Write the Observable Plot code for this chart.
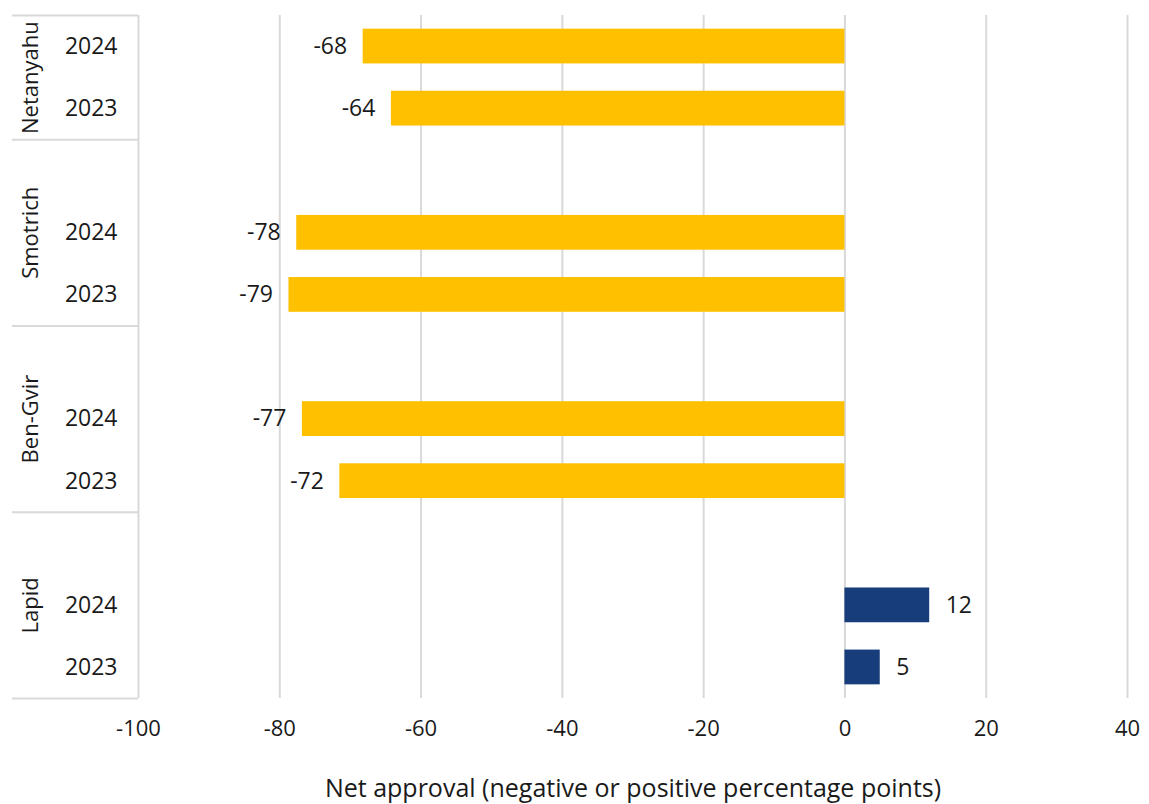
<!DOCTYPE html>
<html>
<head>
<meta charset="utf-8">
<script src="https://cdn.jsdelivr.net/npm/d3@7"></script>
<script src="https://cdn.jsdelivr.net/npm/@observablehq/plot@0.6"></script>
<style>
  html, body { margin: 0; padding: 0; background: #fff; }
</style>
</head>
<body>
<div id="chart"></div>
<script>
const people = ["Netanyahu", "Smotrich", "Ben-Gvir", "Lapid"];
const years = ["2024", "2023"];
const net2024 = [-68.2, -77.6, -76.8, 12];
const net2023 = [-64.2, -78.7, -71.5, 5];
const xTicks = [-100, -80, -60, -40, -20, 0, 20, 40];
const xLabel = "Net approval (negative or positive percentage points)";

const fmtVal = v => String(Math.sign(v) * Math.round(Math.abs(v)));

// each person occupies 3 slots: blank, 2024, 2023
const rows = [];
people.forEach((p, i) => {
  [net2024[i], net2023[i]].forEach((v, j) => {
    rows.push({person: p, year: years[j], value: v, pos: 3 * i + 1.5 + j});
  });
});
const groups = people.map((p, i) => ({person: p, start: Math.max(3 * i, 1), end: 3 * i + 3}));
const separators = [1, ...groups.map(g => g.end)];
const half = 0.28;

const chart = Plot.plot({
  width: 1149,
  height: 804,
  marginTop: 15,
  marginBottom: 106,
  marginLeft: 138,
  marginRight: 22,
  style: {fontFamily: "'Open Sans', sans-serif", fontSize: "22px", color: "#1a1a1a", background: "#fff"},
  x: {domain: [-100, 40]},
  y: {domain: [1, 12], reverse: true, label: null},
  marks: [
    Plot.ruleX(xTicks, {stroke: "#d9d9d9", strokeWidth: 2}),
    Plot.axisY(separators, {tickSize: 126, tickFormat: () => "", stroke: "#d9d9d9", strokeWidth: 2, label: null}),
    Plot.axisY(rows.map(r => r.pos), {
      tickSize: 0, tickPadding: 21, fontSize: 23,
      tickFormat: d => rows.find(r => r.pos === d).year, label: null
    }),
    Plot.text(groups, {
      x: () => -100, y: g => (g.start + g.end) / 2, text: "person",
      rotate: -90, dx: -108, textAnchor: "middle", fontSize: 22, fill: "#1a1a1a"
    }),
    Plot.rectX(rows, {
      x1: 0, x2: "value", y1: r => r.pos - half, y2: r => r.pos + half,
      fill: r => r.value < 0 ? "#FFC000" : "#173E7A"
    }),
    Plot.text(rows, {
      filter: r => r.value < 0, x: "value", y: "pos", text: r => fmtVal(r.value),
      textAnchor: "end", dx: -16, fontSize: 23, fill: "#1a1a1a"
    }),
    Plot.text(rows, {
      filter: r => r.value >= 0, x: "value", y: "pos", text: r => fmtVal(r.value),
      textAnchor: "start", dx: 16, fontSize: 23, fill: "#1a1a1a"
    }),
    Plot.axisX(xTicks, {tickSize: 0, tickPadding: 22, tickFormat: d => String(d), label: null, fontSize: 22}),
    Plot.text([xLabel], {frameAnchor: "bottom", dy: 98, fontSize: 25, fill: "#1a1a1a"})
  ]
});
document.getElementById("chart").appendChild(chart);
</script>
</body>
</html>
